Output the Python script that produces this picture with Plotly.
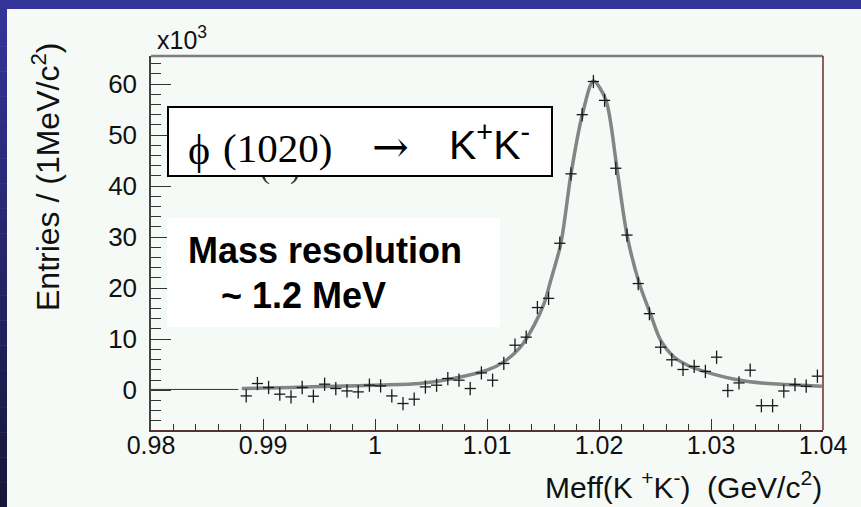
import plotly.graph_objects as go

# ---------------- data ----------------
mass_gev = [0.9885, 0.9895, 0.9905, 0.9915, 0.9925, 0.9935, 0.9945, 0.9955, 0.9965, 0.9975,
            0.9985, 0.9995, 1.0005, 1.0015, 1.0025, 1.0035, 1.0045, 1.0055, 1.0065, 1.0075,
            1.0085, 1.0095, 1.0105, 1.0115, 1.0125, 1.0135, 1.0145, 1.0155, 1.0165, 1.0175,
            1.0185, 1.0195, 1.0205, 1.0215, 1.0225, 1.0235, 1.0245, 1.0255, 1.0265, 1.0275,
            1.0285, 1.0295, 1.0305, 1.0315, 1.0325, 1.0335, 1.0345, 1.0355, 1.0365, 1.0375,
            1.0385, 1.0395]
entries_k = [-1.12, 1.31, 0.53, -0.78, -1.31, 0.53, -1.18, 1.18, 0.33, -0.14,
             -0.33, 0.98, 0.84, -1.12, -2.61, -1.76, 0.65, 0.98, 2.29, 1.96,
             0.33, 3.39, 1.96, 5.24, 8.82, 10.4, 16.2, 18.0, 28.8, 42.4,
             54.0, 60.5, 56.8, 43.5, 30.4, 20.9, 15.0, 8.43, 5.96, 4.06,
             4.65, 3.69, 6.47, -0.06, 1.43, 3.92, -3.04, -3.04, -0.16, 1.08,
             0.78, 2.75]

fit_mass = [0.9881, 0.9925, 0.9965, 1.0005, 1.0040, 1.0070, 1.0100, 1.0115, 1.0130, 1.0142,
            1.0151, 1.0157, 1.0166, 1.0175, 1.0185, 1.0195, 1.0206, 1.0216, 1.0225, 1.0236,
            1.0246, 1.0255, 1.0267, 1.0279, 1.0291, 1.0321, 1.0351, 1.0381, 1.0399]
fit_entries = [0.33, 0.55, 0.78, 1.0, 1.31, 2.29, 3.92, 5.55, 8.49, 12.7,
               17.0, 21.6, 28.8, 42.4, 53.9, 60.6, 57.0, 43.5, 30.4, 20.9,
               14.9, 9.8, 6.5, 4.9, 3.9, 2.16, 1.3, 0.98, 0.78]

empty_mass = [0.9800, 0.9878]
empty_entries = [0.15, 0.15]

x_tick_vals = [0.98, 0.99, 1.00, 1.01, 1.02, 1.03, 1.04]
x_tick_text = ["0.98", "0.99", "1", "1.01", "1.02", "1.03", "1.04"]
y_tick_vals = [0, 10, 20, 30, 40, 50, 60]
y_tick_text = ["0", "10", "20", "30", "40", "50", "60"]

# ---------------- geometry helpers ----------------
W, H = 861, 507
L, R, T, B = 151, 38, 56, 77
PW, PH = W - L - R, H - T - B


def fx(px):
    return (px - L) / PW


def fy(py):
    return (H - B - py) / PH


SANS = "Liberation Sans, Arial, Helvetica, sans-serif"
SERIF = "Liberation Serif, Times New Roman, DejaVu Serif, serif"
BG = "#f5faf7"

fig = go.Figure()

fig.add_trace(go.Scatter(x=empty_mass, y=empty_entries, mode="lines",
                         line=dict(color="#333333", width=1), hoverinfo="skip"))
fig.add_trace(go.Scatter(x=fit_mass, y=fit_entries, mode="lines",
                         line=dict(color="#858585", width=3.5, shape="spline", smoothing=0.8),
                         hoverinfo="skip"))
fig.add_trace(go.Scatter(x=mass_gev, y=entries_k, mode="markers",
                         marker=dict(size=1, color="rgba(0,0,0,0)"),
                         error_x=dict(type="constant", value=0.0005, width=0, thickness=1.3,
                                      color="#1a1a1a"),
                         error_y=dict(type="constant", value=1.3, width=0, thickness=1.3,
                                      color="#1a1a1a")))

shapes = []
# blue top band
shapes.append(dict(type="rect", xref="paper", yref="paper", x0=fx(0), x1=fx(W), y0=fy(9), y1=fy(0),
                   fillcolor="#333399", line=dict(width=0), layer="above"))
# left band with gradient
n = 40
c0 = (51, 51, 153)
c1 = (22, 22, 58)
for i in range(n):
    t = i / (n - 1)
    col = tuple(int(round(c0[k] + (c1[k] - c0[k]) * t)) for k in range(3))
    shapes.append(dict(type="rect", xref="paper", yref="paper",
                       x0=fx(0), x1=fx(7), y0=fy(9 + (H - 9) * (i + 1) / n + 0.5),
                       y1=fy(9 + (H - 9) * i / n),
                       fillcolor="rgb(%d,%d,%d)" % col, line=dict(width=0), layer="above"))
# frame top and right
shapes.append(dict(type="line", xref="paper", yref="paper", x0=0, x1=1, y0=1, y1=1,
                   line=dict(color="#7d7d7d", width=2.5), layer="above"))
shapes.append(dict(type="line", xref="paper", yref="paper", x0=1, x1=1, y0=0, y1=1,
                   line=dict(color="#6a2a2a", width=1.5), layer="above"))
# white "Mass resolution" box
shapes.append(dict(type="rect", xref="paper", yref="paper", x0=fx(167), x1=fx(500),
                   y0=fy(327), y1=fy(218), fillcolor="#ffffff", line=dict(width=0), layer="above"))

ann = []
ann.append(dict(text="x10<sup>3</sup>", x=fx(155), y=fy(56), xanchor="left", yanchor="bottom",
                font=dict(family=SANS, size=25, color="#111")))
ann.append(dict(text="Entries / (1MeV/c<sup>2</sup>)", textangle=-90, x=fx(46), y=fy(177),
                xanchor="center", yanchor="middle", font=dict(family=SANS, size=32, color="#111")))
ann.append(dict(text="Meff(K\u00a0<sup>+</sup>K<sup>-</sup>)\u00a0\u00a0(GeV/c<sup>2</sup>)",
                x=fx(824), y=fy(485), xanchor="right", yanchor="middle",
                font=dict(family=SANS, size=30, color="#111")))
# residual parentheses peeking below the box
ann.append(dict(text="(", x=fx(265), y=fy(168), xanchor="center", yanchor="middle",
                font=dict(family=SERIF, size=30, color="#333")))
ann.append(dict(text=")", x=fx(295), y=fy(168), xanchor="center", yanchor="middle",
                font=dict(family=SERIF, size=30, color="#333")))
# phi box
ann.append(dict(text="\u00a0", x=fx(167), y=fy(106), xanchor="left", yanchor="top",
                width=382, height=67, bgcolor="#ffffff", bordercolor="#000000",
                borderwidth=2, borderpad=0, showarrow=False))
ann.append(dict(text="\u03d5", x=fx(199), y=fy(150), xanchor="center", yanchor="middle",
                font=dict(family=SERIF, size=42, color="#000")))
ann.append(dict(text="(1020)", x=fx(221), y=fy(148), xanchor="left", yanchor="middle",
                font=dict(family=SERIF, size=41, color="#000")))
ann.append(dict(text="\u2192", x=fx(390), y=fy(146), xanchor="center", yanchor="middle",
                font=dict(family="DejaVu Serif, serif", size=44, color="#000")))
ann.append(dict(text="K<sup>+</sup>K<sup>-</sup>", x=fx(532), y=fy(142), xanchor="right",
                yanchor="middle", font=dict(family=SANS, size=41, color="#000")))
ann.append(dict(text="<b>Mass resolution</b>", x=fx(186), y=fy(250), xanchor="left",
                yanchor="middle", font=dict(family=SANS, size=36, color="#000")))
ann.append(dict(text="<b>~ 1.2 MeV</b>", x=fx(219), y=fy(295), xanchor="left",
                yanchor="middle", font=dict(family=SANS, size=36, color="#000")))
for a in ann:
    a.setdefault("xref", "paper")
    a.setdefault("yref", "paper")
    a.setdefault("showarrow", False)

fig.update_layout(
    width=W, height=H,
    margin=dict(l=L, r=R, t=T, b=B, pad=0),
    paper_bgcolor=BG, plot_bgcolor=BG,
    showlegend=False,
    shapes=shapes,
    annotations=ann,
    xaxis=dict(range=[0.98, 1.04], tickmode="array", tickvals=x_tick_vals, ticktext=x_tick_text,
               ticks="inside", ticklen=11, tickwidth=1, tickcolor="#333",
               showline=True, linecolor="#553333", linewidth=2,
               showgrid=False, zeroline=False, ticklabelstandoff=-8,
               tickfont=dict(family=SANS, size=25, color="#111"),
               minor=dict(tickmode="linear", tick0=0.98, dtick=0.002, ticks="inside",
                          ticklen=6, tickwidth=1, tickcolor="#333", showgrid=False)),
    yaxis=dict(range=[-7.8, 65.5], tickmode="array", tickvals=y_tick_vals, ticktext=y_tick_text,
               ticks="inside", ticklen=20, tickwidth=1, tickcolor="#333",
               showline=True, linecolor="#444444", linewidth=1.5,
               showgrid=False, zeroline=False, ticklabelstandoff=7,
               tickfont=dict(family=SANS, size=26, color="#111"),
               minor=dict(tickmode="linear", tick0=0, dtick=2, ticks="inside",
                          ticklen=10, tickwidth=1, tickcolor="#333", showgrid=False)),
)

fig.write_html("out.html")
